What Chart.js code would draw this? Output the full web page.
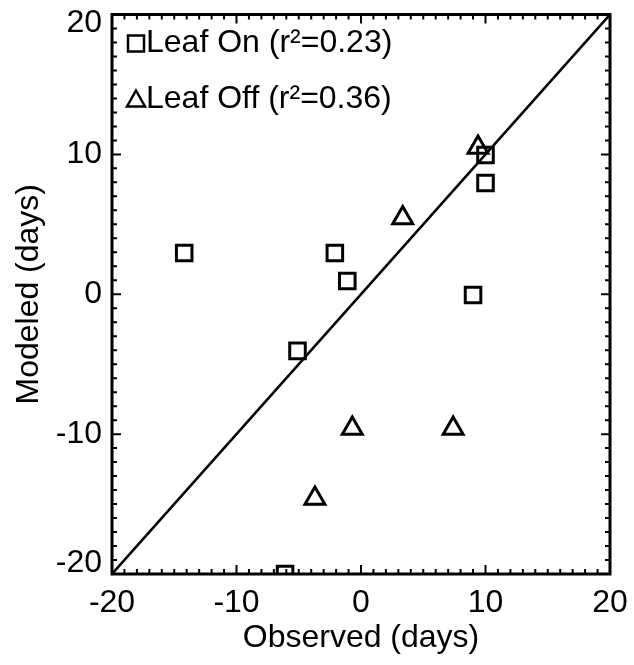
<!DOCTYPE html>
<html>
<head>
<meta charset="utf-8">
<script src="https://cdn.jsdelivr.net/npm/chart.js@4.4.1/dist/chart.umd.min.js"></script>
<style>
  body { margin: 0; background: #fff; }
  #wrap { width: 634px; height: 665px; }
</style>
</head>
<body>
<div id="wrap"><canvas id="scatterchart"></canvas></div>
<script>
// values (days)
var leafOnX = [-14.2, -2.1, -1.1, 9.0, 10.0, 10.0, -5.1, -6.1];
var leafOnY = [2.95, 2.95, 0.95, -0.05, 9.95, 7.95, -4.05, -20.0];
var leafOffX = [9.4, 3.35, -0.7, 7.4, -3.7];
var leafOffY = [10.5, 5.45, -9.6, -9.6, -14.6];
var oneToOneX = [-20, 20];
var oneToOneY = [-20, 20];
var axisMin = -20, axisMax = 20, majorStep = 10, minorStep = 1;
var legendLabels = ["Leaf On (r\u00B2=0.23)", "Leaf Off (r\u00B2=0.36)"];

var FONT = "'Liberation Sans', Arial, Helvetica, sans-serif";
var FSIZE = 32;

function toPoints(xs, ys) {
  return xs.map(function (x, i) { return { x: x, y: ys[i] }; });
}

// the end labels of the y axis sit a little inside the box, like the original
const nudgeEndLabels = {
  id: "nudgeEndLabels",
  beforeDraw(chart) {
    const items = chart.scales.y.getLabelItems(chart.chartArea);
    if (!items.length || items._nudged) return;
    items.forEach(function (it) {
      if (it.label === String(axisMax)) it.options.translation[1] += 9;
      if (it.label === String(axisMin)) it.options.translation[1] -= 11;
    });
    items._nudged = true;
  }
};

// box frame with inward ticks on every side, plus the in-plot legend
const frameTicks = {
  id: "frameTicks",
  afterDatasetsDraw(chart) {
    const ctx = chart.ctx;
    const a = chart.chartArea;
    const x = chart.scales.x, y = chart.scales.y;
    ctx.save();
    ctx.strokeStyle = "#000";
    ctx.lineWidth = 2;
    for (let v = axisMin; v <= axisMax; v += minorStep) {
      const len = v % majorStep === 0 ? 9 : 5;
      const px = x.getPixelForValue(v), py = y.getPixelForValue(v);
      ctx.beginPath();
      ctx.moveTo(px, a.bottom); ctx.lineTo(px, a.bottom - len);
      ctx.moveTo(px, a.top); ctx.lineTo(px, a.top + len);
      ctx.moveTo(a.left, py); ctx.lineTo(a.left + len, py);
      ctx.moveTo(a.right, py); ctx.lineTo(a.right - len, py);
      ctx.stroke();
    }
    ctx.lineWidth = 3;
    ctx.strokeRect(a.left, a.top, a.right - a.left, a.bottom - a.top);

    // legend
    ctx.lineWidth = 2.5;
    ctx.fillStyle = "#000";
    ctx.font = FSIZE + "px " + FONT;
    ctx.textBaseline = "middle";
    const sx = a.left + 16, tx = a.left + 34;
    const y1 = a.top + 29, y2 = a.top + 85;
    ctx.strokeRect(sx, y1 - 8, 16, 16);
    ctx.beginPath();
    ctx.moveTo(sx + 8, y2 - 9);
    ctx.lineTo(sx + 17, y2 + 7);
    ctx.lineTo(sx - 1, y2 + 7);
    ctx.closePath();
    ctx.stroke();
    ctx.fillText(legendLabels[0], tx, y1);
    ctx.fillText(legendLabels[1], tx, y2);
    ctx.restore();
  }
};

let ctx = document.getElementById("scatterchart").getContext("2d");

let chart = new Chart(ctx, {
  type: "scatter",
  data: {
    datasets: [
      {
        label: "Leaf On",
        data: toPoints(leafOnX, leafOnY),
        pointStyle: "rect",
        pointRadius: 11,
        pointBorderWidth: 3,
        borderColor: "#000",
        backgroundColor: "rgba(0,0,0,0)",
        clip: 0,
      },
      {
        label: "Leaf Off",
        data: toPoints(leafOffX, leafOffY),
        pointStyle: "triangle",
        pointRadius: 11.5,
        pointBorderWidth: 3,
        borderColor: "#000",
        backgroundColor: "rgba(0,0,0,0)",
        clip: 0,
      },
      {
        type: "line",
        label: "1:1",
        data: toPoints(oneToOneX, oneToOneY),
        borderColor: "#000",
        borderWidth: 2.5,
        pointRadius: 0,
        fill: false,
      },
    ],
  },
  options: {
    responsive: true,
    maintainAspectRatio: false,
    animation: false,
    layout: { padding: { left: 0, right: 24, top: 14, bottom: 0 } },
    plugins: {
      legend: { display: false },
      tooltip: { enabled: false },
    },
    scales: {
      x: {
        type: "linear",
        min: axisMin,
        max: axisMax,
        grid: { display: false, drawTicks: false },
        border: { display: false },
        ticks: { stepSize: majorStep, color: "#000", padding: 10, font: { family: FONT, size: FSIZE } },
        title: { display: true, text: "Observed (days)", color: "#000", padding: { top: 0, bottom: 8 }, font: { family: FONT, size: FSIZE } },
        afterFit(scale) { scale.height = 91; scale.paddingLeft = 0; scale.paddingRight = 0; },
      },
      y: {
        type: "linear",
        min: axisMin,
        max: axisMax,
        grid: { display: false, drawTicks: false },
        border: { display: false },
        ticks: { stepSize: majorStep, color: "#000", padding: 10, font: { family: FONT, size: FSIZE } },
        title: { display: true, text: "Modeled (days)", color: "#000", padding: { top: 10, bottom: 0 }, font: { family: FONT, size: FSIZE } },
        afterFit(scale) { scale.width = 112; scale.paddingTop = 0; scale.paddingBottom = 0; },
      },
    },
  },
  plugins: [nudgeEndLabels, frameTicks],
});
</script>
</body>
</html>
